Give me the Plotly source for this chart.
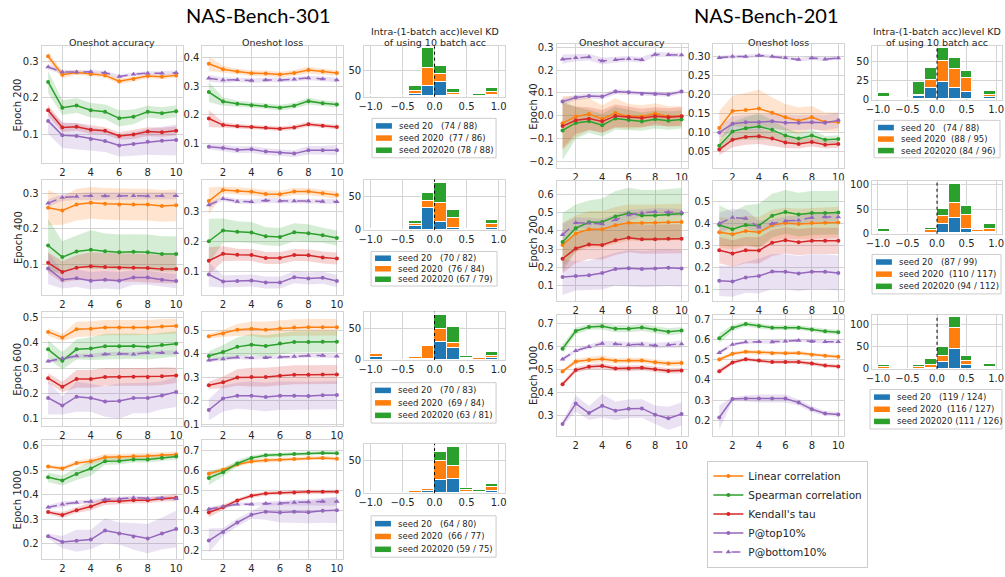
import plotly.graph_objects as go

W, H = 1005, 577
EPOCHS = [1, 2, 3, 4, 5, 6, 7, 8, 9, 10]
BIN_CENTERS = [-0.9, -0.7, -0.5, -0.3, -0.1, 0.1, 0.3, 0.5, 0.7, 0.9]
SERIES_NAMES = ["Linear correlation", "Spearman correlation", "Kendall's tau", "P@top10%", "P@bottom10%"]

# ---------------- NAS-Bench-301 ----------------
b301_e200_acc_lin = [0.313, 0.263, 0.269, 0.264, 0.261, 0.245, 0.251, 0.259, 0.257, 0.261]
b301_e200_acc_lin_sd = [0.012, 0.010, 0.006, 0.006, 0.006, 0.008, 0.006, 0.006, 0.006, 0.006]
b301_e200_acc_spe = [0.243, 0.173, 0.179, 0.166, 0.162, 0.144, 0.148, 0.162, 0.158, 0.163]
b301_e200_acc_spe_sd = [0.030, 0.020, 0.020, 0.020, 0.020, 0.022, 0.020, 0.016, 0.016, 0.016]
b301_e200_acc_ken = [0.166, 0.119, 0.121, 0.113, 0.110, 0.096, 0.100, 0.108, 0.106, 0.110]
b301_e200_acc_ken_sd = [0.015, 0.012, 0.010, 0.012, 0.010, 0.010, 0.012, 0.012, 0.012, 0.012]
b301_e200_acc_top = [0.137, 0.098, 0.096, 0.088, 0.082, 0.070, 0.074, 0.080, 0.083, 0.085]
b301_e200_acc_top_sd = [0.035, 0.035, 0.035, 0.032, 0.030, 0.030, 0.032, 0.035, 0.038, 0.042]
b301_e200_acc_bot = [0.284, 0.270, 0.270, 0.271, 0.268, 0.258, 0.264, 0.267, 0.267, 0.268]
b301_e200_acc_bot_sd = [0.008, 0.006, 0.005, 0.005, 0.005, 0.005, 0.005, 0.005, 0.005, 0.006]

b301_e200_loss_lin = [0.379, 0.360, 0.352, 0.346, 0.345, 0.341, 0.347, 0.357, 0.352, 0.347]
b301_e200_loss_lin_sd = [0.025, 0.012, 0.010, 0.010, 0.010, 0.010, 0.010, 0.012, 0.010, 0.010]
b301_e200_loss_spe = [0.280, 0.247, 0.239, 0.234, 0.231, 0.225, 0.232, 0.248, 0.241, 0.236]
b301_e200_loss_spe_sd = [0.035, 0.015, 0.010, 0.010, 0.010, 0.010, 0.010, 0.012, 0.010, 0.010]
b301_e200_loss_ken = [0.187, 0.164, 0.160, 0.157, 0.155, 0.151, 0.156, 0.167, 0.162, 0.157]
b301_e200_loss_ken_sd = [0.030, 0.010, 0.008, 0.008, 0.008, 0.008, 0.008, 0.008, 0.008, 0.008]
b301_e200_loss_top = [0.088, 0.084, 0.077, 0.079, 0.071, 0.067, 0.064, 0.076, 0.076, 0.076]
b301_e200_loss_top_sd = [0.010, 0.012, 0.012, 0.012, 0.012, 0.012, 0.012, 0.015, 0.015, 0.018]
b301_e200_loss_bot = [0.328, 0.322, 0.323, 0.320, 0.322, 0.322, 0.325, 0.329, 0.326, 0.322]
b301_e200_loss_bot_sd = [0.012, 0.010, 0.008, 0.008, 0.008, 0.008, 0.008, 0.008, 0.008, 0.008]

b301_e400_acc_lin = [0.260, 0.252, 0.269, 0.274, 0.271, 0.269, 0.269, 0.269, 0.265, 0.267]
b301_e400_acc_lin_sd = [0.050, 0.040, 0.045, 0.045, 0.045, 0.045, 0.045, 0.045, 0.045, 0.045]
b301_e400_acc_spe = [0.153, 0.120, 0.136, 0.141, 0.137, 0.134, 0.135, 0.134, 0.129, 0.129]
b301_e400_acc_spe_sd = [0.075, 0.045, 0.045, 0.055, 0.050, 0.050, 0.050, 0.050, 0.050, 0.050]
b301_e400_acc_ken = [0.104, 0.078, 0.090, 0.094, 0.092, 0.090, 0.090, 0.089, 0.086, 0.086]
b301_e400_acc_ken_sd = [0.030, 0.030, 0.035, 0.040, 0.040, 0.040, 0.040, 0.040, 0.040, 0.040]
b301_e400_acc_top = [0.088, 0.056, 0.060, 0.053, 0.056, 0.053, 0.062, 0.062, 0.056, 0.052]
b301_e400_acc_top_sd = [0.045, 0.025, 0.025, 0.025, 0.025, 0.025, 0.020, 0.020, 0.020, 0.020]
b301_e400_acc_bot = [0.273, 0.289, 0.292, 0.294, 0.293, 0.294, 0.294, 0.293, 0.294, 0.294]
b301_e400_acc_bot_sd = [0.010, 0.010, 0.010, 0.010, 0.010, 0.010, 0.010, 0.010, 0.010, 0.010]

b301_e400_loss_lin = [0.336, 0.373, 0.370, 0.367, 0.360, 0.359, 0.368, 0.368, 0.362, 0.356]
b301_e400_loss_lin_sd = [0.045, 0.012, 0.012, 0.012, 0.012, 0.012, 0.012, 0.012, 0.012, 0.012]
b301_e400_loss_spe = [0.202, 0.238, 0.234, 0.231, 0.219, 0.216, 0.232, 0.229, 0.222, 0.213]
b301_e400_loss_spe_sd = [0.075, 0.040, 0.035, 0.035, 0.030, 0.030, 0.030, 0.030, 0.025, 0.025]
b301_e400_loss_ken = [0.137, 0.160, 0.157, 0.156, 0.146, 0.146, 0.156, 0.155, 0.148, 0.144]
b301_e400_loss_ken_sd = [0.045, 0.025, 0.020, 0.020, 0.020, 0.020, 0.020, 0.020, 0.020, 0.020]
b301_e400_loss_top = [0.091, 0.068, 0.069, 0.071, 0.064, 0.064, 0.082, 0.078, 0.080, 0.069]
b301_e400_loss_top_sd = [0.040, 0.020, 0.020, 0.020, 0.020, 0.020, 0.020, 0.020, 0.020, 0.020]
b301_e400_loss_bot = [0.323, 0.344, 0.335, 0.334, 0.338, 0.336, 0.336, 0.336, 0.335, 0.334]
b301_e400_loss_bot_sd = [0.008, 0.008, 0.008, 0.008, 0.008, 0.008, 0.008, 0.008, 0.008, 0.008]

b301_e600_acc_lin = [0.443, 0.421, 0.453, 0.455, 0.460, 0.460, 0.460, 0.460, 0.464, 0.466]
b301_e600_acc_lin_sd = [0.015, 0.015, 0.030, 0.030, 0.030, 0.030, 0.030, 0.030, 0.030, 0.030]
b301_e600_acc_spe = [0.374, 0.329, 0.374, 0.377, 0.386, 0.386, 0.387, 0.384, 0.391, 0.396]
b301_e600_acc_spe_sd = [0.035, 0.035, 0.040, 0.045, 0.050, 0.050, 0.050, 0.050, 0.050, 0.050]
b301_e600_acc_ken = [0.260, 0.226, 0.257, 0.257, 0.265, 0.265, 0.266, 0.265, 0.268, 0.271]
b301_e600_acc_ken_sd = [0.020, 0.020, 0.035, 0.035, 0.035, 0.035, 0.035, 0.035, 0.035, 0.030]
b301_e600_acc_top = [0.182, 0.152, 0.187, 0.182, 0.168, 0.170, 0.182, 0.182, 0.192, 0.206]
b301_e600_acc_top_sd = [0.065, 0.035, 0.060, 0.055, 0.060, 0.070, 0.060, 0.060, 0.055, 0.060]
b301_e600_acc_bot = [0.327, 0.338, 0.348, 0.349, 0.355, 0.357, 0.355, 0.361, 0.361, 0.361]
b301_e600_acc_bot_sd = [0.008, 0.008, 0.008, 0.008, 0.008, 0.008, 0.008, 0.008, 0.008, 0.008]

b301_e600_loss_lin = [0.474, 0.486, 0.501, 0.506, 0.501, 0.507, 0.511, 0.512, 0.512, 0.512]
b301_e600_loss_lin_sd = [0.010, 0.015, 0.025, 0.030, 0.035, 0.035, 0.035, 0.035, 0.035, 0.035]
b301_e600_loss_spe = [0.390, 0.407, 0.429, 0.438, 0.433, 0.443, 0.450, 0.450, 0.451, 0.451]
b301_e600_loss_spe_sd = [0.020, 0.030, 0.040, 0.045, 0.045, 0.045, 0.045, 0.045, 0.045, 0.045]
b301_e600_loss_ken = [0.267, 0.279, 0.299, 0.301, 0.301, 0.307, 0.311, 0.311, 0.312, 0.312]
b301_e600_loss_ken_sd = [0.015, 0.025, 0.035, 0.040, 0.040, 0.040, 0.040, 0.040, 0.040, 0.040]
b301_e600_loss_top = [0.162, 0.211, 0.222, 0.222, 0.217, 0.222, 0.222, 0.221, 0.224, 0.225]
b301_e600_loss_top_sd = [0.045, 0.055, 0.055, 0.060, 0.060, 0.060, 0.060, 0.060, 0.060, 0.060]
b301_e600_loss_bot = [0.372, 0.378, 0.385, 0.383, 0.383, 0.386, 0.388, 0.392, 0.392, 0.389]
b301_e600_loss_bot_sd = [0.008, 0.008, 0.008, 0.008, 0.008, 0.008, 0.008, 0.008, 0.008, 0.008]

b301_e1000_acc_lin = [0.515, 0.507, 0.529, 0.537, 0.553, 0.554, 0.557, 0.558, 0.561, 0.564]
b301_e1000_acc_lin_sd = [0.008, 0.008, 0.010, 0.012, 0.012, 0.012, 0.012, 0.012, 0.012, 0.012]
b301_e1000_acc_spe = [0.471, 0.458, 0.485, 0.507, 0.537, 0.538, 0.544, 0.544, 0.550, 0.556]
b301_e1000_acc_spe_sd = [0.020, 0.020, 0.025, 0.030, 0.015, 0.015, 0.012, 0.012, 0.012, 0.012]
b301_e1000_acc_ken = [0.329, 0.317, 0.337, 0.352, 0.373, 0.373, 0.377, 0.377, 0.384, 0.388]
b301_e1000_acc_ken_sd = [0.008, 0.012, 0.012, 0.015, 0.015, 0.012, 0.012, 0.012, 0.012, 0.015]
b301_e1000_acc_top = [0.231, 0.207, 0.212, 0.217, 0.254, 0.242, 0.230, 0.221, 0.242, 0.260]
b301_e1000_acc_top_sd = [0.010, 0.025, 0.045, 0.040, 0.050, 0.045, 0.055, 0.060, 0.065, 0.075]
b301_e1000_acc_bot = [0.349, 0.361, 0.368, 0.372, 0.380, 0.383, 0.388, 0.385, 0.387, 0.384]
b301_e1000_acc_bot_sd = [0.008, 0.012, 0.008, 0.008, 0.008, 0.008, 0.008, 0.008, 0.008, 0.008]

b301_e1000_loss_lin = [0.582, 0.602, 0.628, 0.643, 0.649, 0.652, 0.656, 0.661, 0.661, 0.657]
b301_e1000_loss_lin_sd = [0.012, 0.010, 0.010, 0.010, 0.010, 0.010, 0.010, 0.010, 0.010, 0.010]
b301_e1000_loss_spe = [0.561, 0.590, 0.633, 0.661, 0.674, 0.677, 0.680, 0.684, 0.685, 0.684]
b301_e1000_loss_spe_sd = [0.035, 0.020, 0.015, 0.012, 0.010, 0.010, 0.010, 0.010, 0.010, 0.010]
b301_e1000_loss_ken = [0.389, 0.415, 0.449, 0.472, 0.484, 0.487, 0.489, 0.492, 0.492, 0.492]
b301_e1000_loss_ken_sd = [0.025, 0.012, 0.010, 0.010, 0.010, 0.010, 0.010, 0.010, 0.010, 0.010]
b301_e1000_loss_top = [0.249, 0.292, 0.339, 0.377, 0.393, 0.389, 0.393, 0.390, 0.397, 0.400]
b301_e1000_loss_top_sd = [0.060, 0.020, 0.020, 0.020, 0.040, 0.050, 0.055, 0.055, 0.060, 0.065]
b301_e1000_loss_bot = [0.405, 0.418, 0.430, 0.430, 0.433, 0.434, 0.439, 0.441, 0.444, 0.444]
b301_e1000_loss_bot_sd = [0.008, 0.008, 0.008, 0.008, 0.010, 0.012, 0.015, 0.018, 0.020, 0.022]

# ---------------- NAS-Bench-201 ----------------
b201_e40_acc_lin = [-0.033, -0.004, 0.007, -0.014, 0.012, -0.003, -0.004, 0.010, -0.004, -0.003]
b201_e40_acc_lin_sd = [0.120, 0.090, 0.070, 0.060, 0.065, 0.055, 0.050, 0.045, 0.045, 0.045]
b201_e40_acc_spe = [-0.065, -0.032, -0.025, -0.042, -0.012, -0.019, -0.026, -0.016, -0.022, -0.017]
b201_e40_acc_spe_sd = [0.130, 0.070, 0.050, 0.050, 0.050, 0.045, 0.040, 0.040, 0.040, 0.040]
b201_e40_acc_ken = [-0.046, -0.020, -0.013, -0.025, -0.001, -0.006, -0.010, -0.003, -0.007, -0.003]
b201_e40_acc_ken_sd = [0.100, 0.060, 0.050, 0.050, 0.050, 0.045, 0.040, 0.040, 0.040, 0.040]
b201_e40_acc_top = [0.062, 0.080, 0.087, 0.084, 0.106, 0.103, 0.097, 0.096, 0.093, 0.106]
b201_e40_acc_top_sd = [0.015, 0.012, 0.012, 0.012, 0.012, 0.010, 0.010, 0.010, 0.010, 0.010]
b201_e40_acc_bot = [0.249, 0.255, 0.258, 0.241, 0.246, 0.251, 0.246, 0.270, 0.268, 0.267]
b201_e40_acc_bot_sd = [0.020, 0.015, 0.015, 0.015, 0.012, 0.012, 0.012, 0.010, 0.010, 0.010]

b201_e40_loss_lin = [0.113, 0.158, 0.160, 0.164, 0.153, 0.141, 0.132, 0.141, 0.129, 0.129]
b201_e40_loss_lin_sd = [0.045, 0.040, 0.045, 0.050, 0.040, 0.035, 0.035, 0.030, 0.025, 0.025]
b201_e40_loss_spe = [0.066, 0.104, 0.112, 0.117, 0.108, 0.093, 0.085, 0.093, 0.082, 0.084]
b201_e40_loss_spe_sd = [0.015, 0.025, 0.030, 0.035, 0.025, 0.020, 0.015, 0.015, 0.010, 0.010]
b201_e40_loss_ken = [0.056, 0.082, 0.089, 0.091, 0.085, 0.075, 0.071, 0.076, 0.069, 0.071]
b201_e40_loss_ken_sd = [0.015, 0.020, 0.020, 0.020, 0.020, 0.015, 0.012, 0.012, 0.010, 0.010]
b201_e40_loss_top = [0.101, 0.124, 0.128, 0.128, 0.131, 0.127, 0.127, 0.128, 0.127, 0.133]
b201_e40_loss_top_sd = [0.015, 0.020, 0.020, 0.020, 0.020, 0.020, 0.020, 0.020, 0.020, 0.020]
b201_e40_loss_bot = [0.298, 0.301, 0.301, 0.304, 0.301, 0.298, 0.293, 0.297, 0.294, 0.297]
b201_e40_loss_bot_sd = [0.005, 0.005, 0.005, 0.005, 0.005, 0.005, 0.005, 0.005, 0.005, 0.005]

b201_e200_acc_lin = [0.323, 0.386, 0.409, 0.409, 0.431, 0.445, 0.444, 0.445, 0.447, 0.449]
b201_e200_acc_lin_sd = [0.120, 0.100, 0.100, 0.100, 0.100, 0.100, 0.100, 0.100, 0.100, 0.100]
b201_e200_acc_spe = [0.339, 0.415, 0.447, 0.449, 0.479, 0.497, 0.485, 0.485, 0.490, 0.496]
b201_e200_acc_spe_sd = [0.160, 0.130, 0.120, 0.130, 0.140, 0.140, 0.140, 0.140, 0.140, 0.140]
b201_e200_acc_ken = [0.247, 0.303, 0.325, 0.323, 0.348, 0.363, 0.354, 0.354, 0.357, 0.357]
b201_e200_acc_ken_sd = [0.080, 0.080, 0.080, 0.080, 0.080, 0.080, 0.080, 0.080, 0.080, 0.080]
b201_e200_acc_top = [0.147, 0.152, 0.156, 0.168, 0.190, 0.195, 0.190, 0.193, 0.197, 0.193]
b201_e200_acc_top_sd = [0.100, 0.080, 0.080, 0.090, 0.090, 0.100, 0.100, 0.100, 0.100, 0.100]
b201_e200_acc_bot = [0.379, 0.445, 0.442, 0.438, 0.461, 0.487, 0.499, 0.505, 0.503, 0.501]
b201_e200_acc_bot_sd = [0.060, 0.030, 0.030, 0.030, 0.030, 0.030, 0.020, 0.020, 0.020, 0.020]

b201_e200_loss_lin = [0.361, 0.352, 0.367, 0.361, 0.394, 0.403, 0.399, 0.403, 0.404, 0.406]
b201_e200_loss_lin_sd = [0.070, 0.070, 0.070, 0.070, 0.070, 0.070, 0.070, 0.070, 0.070, 0.070]
b201_e200_loss_spe = [0.394, 0.375, 0.394, 0.391, 0.437, 0.454, 0.442, 0.449, 0.449, 0.451]
b201_e200_loss_spe_sd = [0.090, 0.080, 0.090, 0.100, 0.100, 0.100, 0.100, 0.100, 0.100, 0.100]
b201_e200_loss_ken = [0.279, 0.264, 0.279, 0.278, 0.313, 0.324, 0.316, 0.322, 0.322, 0.322]
b201_e200_loss_ken_sd = [0.060, 0.060, 0.060, 0.060, 0.060, 0.060, 0.060, 0.060, 0.060, 0.060]
b201_e200_loss_top = [0.140, 0.136, 0.155, 0.161, 0.182, 0.181, 0.173, 0.181, 0.181, 0.175]
b201_e200_loss_top_sd = [0.070, 0.070, 0.070, 0.080, 0.080, 0.080, 0.080, 0.080, 0.080, 0.080]
b201_e200_loss_bot = [0.401, 0.428, 0.424, 0.384, 0.401, 0.413, 0.416, 0.428, 0.431, 0.431]
b201_e200_loss_bot_sd = [0.050, 0.040, 0.040, 0.030, 0.020, 0.020, 0.020, 0.020, 0.020, 0.020]

b201_e1000_acc_lin = [0.492, 0.535, 0.542, 0.546, 0.538, 0.539, 0.539, 0.532, 0.526, 0.529]
b201_e1000_acc_lin_sd = [0.008, 0.012, 0.012, 0.015, 0.012, 0.012, 0.012, 0.012, 0.012, 0.012]
b201_e1000_acc_spe = [0.590, 0.667, 0.684, 0.688, 0.677, 0.677, 0.682, 0.672, 0.664, 0.669]
b201_e1000_acc_spe_sd = [0.020, 0.015, 0.012, 0.015, 0.015, 0.015, 0.015, 0.015, 0.015, 0.015]
b201_e1000_acc_ken = [0.437, 0.498, 0.512, 0.515, 0.505, 0.505, 0.508, 0.501, 0.494, 0.496]
b201_e1000_acc_ken_sd = [0.010, 0.012, 0.012, 0.012, 0.012, 0.012, 0.012, 0.012, 0.012, 0.012]
b201_e1000_acc_top = [0.265, 0.353, 0.312, 0.343, 0.322, 0.330, 0.332, 0.305, 0.289, 0.308]
b201_e1000_acc_top_sd = [0.010, 0.035, 0.030, 0.050, 0.040, 0.040, 0.040, 0.040, 0.050, 0.050]
b201_e1000_acc_bot = [0.545, 0.582, 0.599, 0.613, 0.611, 0.607, 0.610, 0.604, 0.607, 0.611]
b201_e1000_acc_bot_sd = [0.010, 0.008, 0.010, 0.012, 0.012, 0.012, 0.012, 0.012, 0.012, 0.015]

b201_e1000_loss_lin = [0.502, 0.531, 0.541, 0.538, 0.533, 0.533, 0.534, 0.526, 0.521, 0.516]
b201_e1000_loss_lin_sd = [0.012, 0.010, 0.010, 0.012, 0.010, 0.010, 0.010, 0.010, 0.010, 0.010]
b201_e1000_loss_spe = [0.608, 0.659, 0.679, 0.669, 0.661, 0.661, 0.661, 0.652, 0.643, 0.638]
b201_e1000_loss_spe_sd = [0.025, 0.015, 0.012, 0.012, 0.012, 0.012, 0.012, 0.012, 0.012, 0.012]
b201_e1000_loss_ken = [0.443, 0.487, 0.503, 0.497, 0.489, 0.489, 0.490, 0.482, 0.472, 0.467]
b201_e1000_loss_ken_sd = [0.015, 0.010, 0.010, 0.010, 0.010, 0.010, 0.010, 0.010, 0.010, 0.010]
b201_e1000_loss_top = [0.213, 0.305, 0.308, 0.308, 0.307, 0.307, 0.287, 0.254, 0.233, 0.228]
b201_e1000_loss_top_sd = [0.060, 0.010, 0.015, 0.020, 0.020, 0.020, 0.015, 0.015, 0.012, 0.012]
b201_e1000_loss_bot = [0.536, 0.577, 0.589, 0.590, 0.589, 0.593, 0.597, 0.592, 0.590, 0.590]
b201_e1000_loss_bot_sd = [0.012, 0.008, 0.008, 0.008, 0.008, 0.008, 0.008, 0.008, 0.008, 0.008]

# ---------------- Histogram counts (bins of width 0.2 from -1 to 1) ----------------
h301_e200_s20 = [2, 0, 0, 5, 20, 27, 3, 0, 0, 3]
h301_e200_s2020 = [0, 0, 0, 5, 33, 16, 4, 0, 0, 5]
h301_e200_s202020 = [0, 0, 1, 10, 38, 15, 6, 1, 5, 8]
h301_e200_labels = ["seed 20    (74 / 88)", "seed 2020  (77 / 86)", "seed 202020 (78 / 88)"]

h301_e400_s20 = [2, 0, 0, 7, 33, 12, 4, 0, 0, 4]
h301_e400_s2020 = [0, 0, 0, 3, 12, 30, 15, 2, 0, 6]
h301_e400_s202020 = [0, 0, 1, 4, 12, 30, 12, 0, 0, 5]
h301_e400_labels = ["seed 20    (70 / 82)", "seed 2020  (76 / 84)", "seed 202020 (67 / 79)"]

h301_e600_s20 = [6, 0, 0, 2, 2, 29, 20, 2, 0, 3]
h301_e600_s2020 = [4, 2, 0, 4, 21, 22, 8, 2, 3, 4]
h301_e600_s202020 = [0, 0, 0, 0, 0, 22, 26, 3, 0, 6]
h301_e600_labels = ["seed 20    (70 / 83)", "seed 2020  (69 / 84)", "seed 202020 (63 / 81)"]

h301_e1000_s20 = [2, 0, 0, 0, 3, 21, 22, 2, 1, 4]
h301_e1000_s2020 = [0, 0, 0, 3, 4, 28, 19, 3, 1, 5]
h301_e1000_s202020 = [0, 0, 0, 0, 0, 14, 29, 3, 3, 5]
h301_e1000_labels = ["seed 20    (64 / 80)", "seed 2020  (66 / 77)", "seed 202020 (59 / 75)"]

h201_e40_s20 = [1, 0, 0, 4, 15, 23, 14, 10, 1, 3]
h201_e40_s2020 = [2, 0, 0, 2, 10, 26, 25, 18, 1, 2]
h201_e40_s202020 = [5, 0, 2, 16, 16, 17, 14, 9, 1, 6]
h201_e40_labels = ["seed 20    (74 / 88)", "seed 2020  (88 / 95)", "seed 202020 (84 / 96)"]

h201_e200_s20 = [1, 0, 0, 1, 1, 18, 32, 9, 2, 3]
h201_e200_s2020 = [2, 0, 0, 1, 5, 17, 30, 29, 4, 5]
h201_e200_s202020 = [5, 0, 0, 2, 4, 15, 39, 18, 2, 10]
h201_e200_labels = ["seed 20    (87 / 99)", "seed 2020  (110 / 117)", "seed 202020 (94 / 112)"]

h201_e1000_s20 = [1, 0, 0, 1, 2, 16, 45, 10, 1, 3]
h201_e1000_s2020 = [3, 0, 0, 5, 8, 13, 47, 8, 0, 3]
h201_e1000_s202020 = [5, 2, 0, 3, 12, 21, 25, 11, 2, 5]
h201_e1000_labels = ["seed 20    (119 / 124)", "seed 2020  (116 / 127)", "seed 202020 (111 / 126)"]

# ---------------- styling ----------------
SERIES_STYLE = [
    ("#ff7f0e", "solid", "circle", 4),
    ("#2ca02c", "solid", "circle", 4),
    ("#d62728", "solid", "circle", 4),
    ("#9467bd", "solid", "circle", 4),
    ("#9467bd", "dash", "triangle-up", 5),
]
SEED_COLORS = ["#1f77b4", "#ff7f0e", "#2ca02c"]
GRID = "#d4d4d4"
TXT = "#262626"
FONT = "DejaVu Sans, Verdana, sans-serif"
TICK_SIZE = 10
TITLE_SIZE = 9.5
LEG_SIZE = 8.5


def rgba(hexc, a):
    h = hexc.lstrip("#")
    return "rgba(%d,%d,%d,%s)" % (int(h[0:2], 16), int(h[2:4], 16), int(h[4:6], 16), a)


def dom_x(a, b):
    return [a / W, b / W]


def dom_y(top, bottom):
    return [1 - bottom / H, 1 - top / H]


fig = go.Figure()
layout = {}
shapes = []
annotations = []
axis_counter = [0]


def new_axes(xpx, ypx, xrange, xticks, xfmt, yrange, yticks, yfmt):
    axis_counter[0] += 1
    k = axis_counter[0]
    sfx = "" if k == 1 else str(k)
    common = dict(showgrid=True, gridcolor=GRID, gridwidth=1, showline=True, mirror=True,
                  linecolor=GRID, linewidth=1, zeroline=False, ticks="",
                  tickfont=dict(family=FONT, size=TICK_SIZE, color=TXT), fixedrange=True)
    layout["xaxis" + sfx] = dict(domain=dom_x(*xpx), range=xrange, tickvals=xticks, tickformat=xfmt,
                                 anchor="y" + sfx, **common)
    layout["yaxis" + sfx] = dict(domain=dom_y(*ypx), range=yrange, tickvals=yticks, tickformat=yfmt,
                                 anchor="x" + sfx, **common)
    return "x" + sfx, "y" + sfx


def line_panel(xpx, ypx, yrange, yticks, yfmt, means, sds, show_legend=False):
    xa, ya = new_axes(xpx, ypx, [0.55, 10.45], [2, 4, 6, 8, 10], "d", yrange, yticks, yfmt)
    for (color, dash, sym, msz), m, s in zip(SERIES_STYLE, means, sds):
        upper = [a + b for a, b in zip(m, s)]
        lower = [a - b for a, b in zip(m, s)]
        fig.add_trace(go.Scatter(x=EPOCHS + EPOCHS[::-1], y=upper + lower[::-1], fill="toself",
                                 fillcolor=rgba(color, 0.2), line=dict(width=0), mode="lines",
                                 hoverinfo="skip", showlegend=False, xaxis=xa, yaxis=ya))
    for name, (color, dash, sym, msz), m in zip(SERIES_NAMES, SERIES_STYLE, means):
        fig.add_trace(go.Scatter(x=EPOCHS, y=m, mode="lines+markers", name=name,
                                 line=dict(color=color, width=1.5, dash=dash),
                                 marker=dict(symbol=sym, size=msz, color=color),
                                 showlegend=show_legend, xaxis=xa, yaxis=ya))


def text(x, y, s, size=TITLE_SIZE, angle=0, family=FONT, color=TXT, anchor="center"):
    annotations.append(dict(x=x / W, y=1 - y / H, xref="paper", yref="paper", text=s, showarrow=False,
                            xanchor=anchor, yanchor="middle", textangle=angle,
                            font=dict(family=family, size=size, color=color)))


def prect(x0, x1, top, bottom, **kw):
    shapes.append(dict(type="rect", xref="paper", yref="paper", x0=x0 / W, x1=x1 / W,
                       y0=1 - bottom / H, y1=1 - top / H, layer="above", **kw))


def hist_panel(xpx, ypx, yrange, yticks, counts, labels, box):
    xa, ya = new_axes(xpx, ypx, [-1.1, 1.1], [-1.0, -0.5, 0.0, 0.5, 1.0], ".1f", yrange, yticks, "d")
    for color, c, lab in zip(SEED_COLORS, counts, labels):
        fig.add_trace(go.Bar(x=BIN_CENTERS, y=c, width=0.2, name=lab,
                             marker=dict(color=color, line=dict(color="white", width=1)),
                             showlegend=False, xaxis=xa, yaxis=ya, hoverinfo="skip"))
    shapes.append(dict(type="line", xref=xa, yref=ya + " domain", x0=0, x1=0, y0=0, y1=1,
                       line=dict(color="black", width=1, dash="dot")))
    # compact matplotlib-style legend box beneath the histogram
    bx0, bx1, btop, bbot = box
    prect(bx0, bx1, btop, bbot, line=dict(color="#cccccc", width=1), fillcolor="white")
    step = (bbot - btop - 3) / 3.0
    for j, (color, lab) in enumerate(zip(SEED_COLORS, labels)):
        yc = btop + 1.5 + step * (j + 0.5)
        prect(bx0 + 4, bx0 + 20, yc - 2.8, yc + 2.8, line=dict(width=0), fillcolor=color)
        text(bx0 + 25, yc, lab.replace("    ", "\u00a0\u00a0\u00a0").replace("  ", "\u00a0\u00a0"),
             size=LEG_SIZE, anchor="left")


def S(prefix):
    g = globals()
    keys = ["lin", "spe", "ken", "top", "bot"]
    return [g[prefix + "_" + s] for s in keys], [g[prefix + "_" + s + "_sd"] for s in keys]


# ---------- NAS-Bench-301 block ----------
L_COL = [(36, 178), (198, 340)]
L_HIST_X = (361, 503)
L_ROWS = [(45, 163), (180, 297), (314, 430), (444, 565)]
L_HROWS = [(45, 96), (180, 231), (314, 363), (448, 498)]
L_BOX = [(369, 494, 118, 158), (368, 495, 253, 288), (368, 494, 386, 427), (368, 494, 521, 563)]

left_specs = [
    ("b301_e200", [0.023, 0.34], [0.1, 0.2, 0.3], [0.032, 0.44], [0.1, 0.2, 0.3, 0.4]),
    ("b301_e400", [0.013, 0.34], [0.1, 0.2, 0.3], [0.023, 0.408], [0.1, 0.2, 0.3]),
    ("b301_e600", [0.071, 0.523], [0.1, 0.2, 0.3, 0.4, 0.5], [0.094, 0.578], [0.1, 0.2, 0.3, 0.4, 0.5]),
    ("b301_e1000", [0.137, 0.624], [0.2, 0.3, 0.4, 0.5, 0.6], [0.156, 0.751], [0.2, 0.3, 0.4, 0.5, 0.6, 0.7]),
]
left_hists = [
    ([h301_e200_s20, h301_e200_s2020, h301_e200_s202020], h301_e200_labels, [0, 95], [0, 50]),
    ([h301_e400_s20, h301_e400_s2020, h301_e400_s202020], h301_e400_labels, [0, 76], [0, 50]),
    ([h301_e600_s20, h301_e600_s2020, h301_e600_s202020], h301_e600_labels, [0, 78], [0, 50]),
    ([h301_e1000_s20, h301_e1000_s2020, h301_e1000_s202020], h301_e1000_labels, [0, 75], [0, 50]),
]
epochs_left = ["Epoch 200", "Epoch 400", "Epoch 600", "Epoch 1000"]

for i, (pref, ra, ta, rl, tl) in enumerate(left_specs):
    m, s = S(pref + "_acc")
    line_panel(L_COL[0], L_ROWS[i], ra, ta, ".1f", m, s, show_legend=(i == 0))
    m, s = S(pref + "_loss")
    line_panel(L_COL[1], L_ROWS[i], rl, tl, ".1f", m, s)
    counts, labels, hr, ht = left_hists[i]
    hist_panel(L_HIST_X, L_HROWS[i], hr, ht, counts, labels, L_BOX[i])
    text(12, (L_ROWS[i][0] + L_ROWS[i][1]) / 2, epochs_left[i], size=TICK_SIZE, angle=-90)

# ---------- NAS-Bench-201 block ----------
R_COL = [(555, 687), (713, 845)]
R_HIST_X = (873, 1004)
R_ROWS = [(43, 168), (182, 303), (317, 440)]
R_HROWS = [(45, 99), (182, 235), (317, 372)]
R_BOX = [(875, 1002, 120, 158), (873, 1003, 256, 296), (871, 1004, 393, 433)]

right_specs = [
    ("b201_e40", [-0.229, 0.314], [-0.2, -0.1, 0.0, 0.1, 0.2, 0.3], ".1f",
     [0.0085, 0.333], [0.05, 0.10, 0.15, 0.20, 0.25, 0.30], ".2f"),
    ("b201_e200", [0.0155, 0.672], [0.1, 0.2, 0.3, 0.4, 0.5, 0.6], ".1f",
     [0.048, 0.593], [0.1, 0.2, 0.3, 0.4, 0.5], ".1f"),
    ("b201_e1000", [0.213, 0.738], [0.3, 0.4, 0.5, 0.6, 0.7], ".1f",
     [0.121, 0.726], [0.2, 0.3, 0.4, 0.5, 0.6, 0.7], ".1f"),
]
right_hists = [
    ([h201_e40_s20, h201_e40_s2020, h201_e40_s202020], h201_e40_labels, [0, 69], [0, 25, 50]),
    ([h201_e200_s20, h201_e200_s2020, h201_e200_s202020], h201_e200_labels, [0, 107], [0, 50, 100]),
    ([h201_e1000_s20, h201_e1000_s2020, h201_e1000_s202020], h201_e1000_labels, [0, 121], [0, 50, 100]),
]
epochs_right = ["Epoch 40", "Epoch 200", "Epoch 1000"]

for i, (pref, ra, ta, fa, rl, tl, fl) in enumerate(right_specs):
    m, s = S(pref + "_acc")
    line_panel(R_COL[0], R_ROWS[i], ra, ta, fa, m, s)
    m, s = S(pref + "_loss")
    line_panel(R_COL[1], R_ROWS[i], rl, tl, fl, m, s)
    counts, labels, hr, ht = right_hists[i]
    hist_panel(R_HIST_X, R_HROWS[i], hr, ht, counts, labels, R_BOX[i])
    text(531, (R_ROWS[i][0] + R_ROWS[i][1]) / 2, epochs_right[i], size=TICK_SIZE, angle=-90)

# main legend (line series)
layout["legend"] = dict(x=707 / W, y=1 - 465 / H, xanchor="left", yanchor="top", bgcolor="white",
                        bordercolor="#cccccc", borderwidth=1, traceorder="normal",
                        font=dict(family=FONT, size=10.5, color=TXT), itemwidth=30,
                        itemclick=False, itemdoubleclick=False)

# titles
text(255, 13, "NAS-Bench-301", size=20, family="Lato", color="#000000")
text(767, 13, "NAS-Bench-201", size=20, family="Lato", color="#000000")
for cx in [(36 + 178) / 2, (555 + 687) / 2]:
    text(cx, 41, "Oneshot accuracy")
for cx in [(198 + 340) / 2, (713 + 845) / 2]:
    text(cx, 41, "Oneshot loss")
for cx in [(361 + 503) / 2, (873 + 1004) / 2]:
    text(cx, 30, "Intra-(1-batch acc)level KD")
    text(cx, 41, "of using 10 batch acc")

fig.update_layout(width=W, height=H, autosize=False, margin=dict(l=0, r=0, t=0, b=0),
                  paper_bgcolor="white", plot_bgcolor="white", barmode="stack", bargap=0,
                  shapes=shapes, annotations=annotations, hovermode=False, **layout)
fig.write_html("out.html")
